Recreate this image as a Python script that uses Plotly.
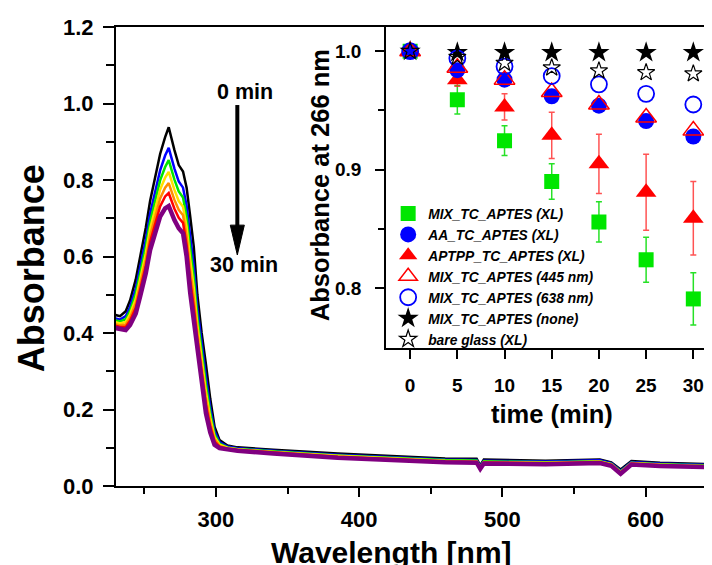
import plotly.graph_objects as go

FONT = "Liberation Sans, Arial, Helvetica, sans-serif"

# ---------------- main panel: UV-vis spectra (MIX_TC_APTES, XL) ----------------
wavelength = [230, 233, 237, 240, 244, 247, 251, 254, 258, 261, 264.5, 267, 271, 274, 277,
              279.5, 282, 284.5, 287, 290, 293, 296, 299, 302.5, 308, 315, 340, 385, 460,
              482, 484.5, 487, 530, 568, 576, 582.5, 590, 610, 646]

abs_0min = [0.447, 0.444, 0.457, 0.485, 0.540, 0.598, 0.675, 0.745, 0.820, 0.868, 0.912, 0.938,
            0.878, 0.839, 0.822, 0.780, 0.705, 0.625, 0.500, 0.400, 0.318, 0.228, 0.155, 0.120,
            0.106, 0.101, 0.095, 0.085, 0.072, 0.071, 0.054, 0.069, 0.066, 0.069, 0.062, 0.043,
            0.065, 0.061, 0.057]
abs_5min = [0.438, 0.435, 0.444, 0.468, 0.517, 0.571, 0.644, 0.712, 0.781, 0.825, 0.864, 0.884,
            0.830, 0.796, 0.780, 0.733, 0.653, 0.576, 0.464, 0.368, 0.285, 0.205, 0.143, 0.115,
            0.103, 0.099, 0.092, 0.082, 0.069, 0.068, 0.052, 0.066, 0.064, 0.067, 0.060, 0.040,
            0.063, 0.059, 0.055]
abs_10min = [0.433, 0.430, 0.436, 0.458, 0.503, 0.555, 0.625, 0.691, 0.757, 0.799, 0.834, 0.852,
             0.801, 0.770, 0.754, 0.704, 0.621, 0.546, 0.441, 0.348, 0.264, 0.191, 0.135, 0.111,
             0.101, 0.097, 0.091, 0.080, 0.068, 0.067, 0.050, 0.065, 0.062, 0.065, 0.058, 0.038,
             0.061, 0.057, 0.054]
abs_15min = [0.428, 0.425, 0.429, 0.449, 0.489, 0.539, 0.607, 0.672, 0.734, 0.775, 0.806, 0.821,
             0.774, 0.745, 0.730, 0.677, 0.591, 0.518, 0.420, 0.329, 0.245, 0.178, 0.128, 0.108,
             0.100, 0.096, 0.089, 0.079, 0.066, 0.065, 0.049, 0.063, 0.061, 0.064, 0.057, 0.037,
             0.060, 0.056, 0.052]
abs_20min = [0.423, 0.420, 0.422, 0.440, 0.477, 0.525, 0.591, 0.654, 0.713, 0.752, 0.780, 0.792,
             0.748, 0.722, 0.708, 0.652, 0.563, 0.492, 0.401, 0.312, 0.227, 0.166, 0.122, 0.105,
             0.098, 0.095, 0.088, 0.077, 0.065, 0.064, 0.048, 0.062, 0.060, 0.063, 0.056, 0.035,
             0.059, 0.055, 0.051]
abs_25min = [0.419, 0.416, 0.416, 0.432, 0.466, 0.512, 0.576, 0.638, 0.694, 0.731, 0.757, 0.766,
             0.725, 0.701, 0.688, 0.630, 0.538, 0.468, 0.383, 0.296, 0.211, 0.155, 0.116, 0.103,
             0.097, 0.094, 0.087, 0.076, 0.064, 0.063, 0.047, 0.061, 0.059, 0.062, 0.055, 0.034,
             0.058, 0.054, 0.050]
abs_30min = [0.413, 0.410, 0.408, 0.421, 0.451, 0.495, 0.556, 0.617, 0.669, 0.704, 0.726, 0.732,
             0.695, 0.674, 0.661, 0.600, 0.505, 0.437, 0.360, 0.276, 0.190, 0.140, 0.108, 0.099,
             0.095, 0.092, 0.085, 0.074, 0.062, 0.061, 0.045, 0.059, 0.057, 0.060, 0.053, 0.032,
             0.056, 0.052, 0.049]

spectra = [abs_0min, abs_5min, abs_10min, abs_15min, abs_20min, abs_25min, abs_30min]
spectra_colors = ["#000000", "#0000ff", "#00e600", "#ffe000", "#ff8c00", "#ff0000", "#800080"]
spectra_widths = [2.5, 2.5, 2.5, 2.5, 2.5, 2.5, 4.5]

# ---------------- inset: absorbance at 266 nm vs time ----------------
time_min = [0, 5, 10, 15, 20, 25, 30]
mix_xl = [1.000, 0.959, 0.9245, 0.890, 0.856, 0.824, 0.791]
mix_xl_err = [0.0, 0.012, 0.0125, 0.015, 0.017, 0.019, 0.022]
aa_xl = [1.000, 0.984, 0.976, 0.962, 0.954, 0.941, 0.928]
aa_xl_err = [0.0, 0.002, 0.002, 0.003, 0.003, 0.004, 0.005]
aptpp_xl = [1.000, 0.976, 0.953, 0.929, 0.905, 0.881, 0.859]
aptpp_xl_err = [0.0, 0.0056, 0.011, 0.0195, 0.025, 0.032, 0.031]
mix_445 = [1.000, 0.986, 0.976, 0.9655, 0.955, 0.944, 0.933]
mix_638 = [1.000, 0.994, 0.987, 0.979, 0.972, 0.964, 0.955]
mix_none = [1.000, 0.999, 0.999, 0.999, 0.999, 0.999, 0.999]
bare_glass = [1.000, 0.995, 0.990, 0.986, 0.9835, 0.982, 0.981]

fig = go.Figure()

for vals, col, w in zip(spectra, spectra_colors, spectra_widths):
    fig.add_trace(go.Scatter(x=wavelength, y=vals, mode="lines",
                             line=dict(color=col, width=w),
                             showlegend=False, hoverinfo="skip",
                             xaxis="x", yaxis="y"))

def inset_trace(y, name, symbol, size, color, rank, err=None, err_color=None, line_w=0):
    kw = {}
    if err is not None:
        kw["error_y"] = dict(type="data", array=err, visible=True,
                             color=err_color, thickness=1.5, width=3)
    return go.Scatter(x=time_min, y=y, mode="markers", name=name,
                      marker=dict(symbol=symbol, size=size, color=color,
                                  line=dict(color=color, width=line_w)),
                      legendrank=rank, xaxis="x2", yaxis="y2", **kw)

fig.add_trace(inset_trace(mix_none, "MIX_TC_APTES (none)", "star", 16, "#000000", 6))
fig.add_trace(inset_trace(mix_xl, "MIX_TC_APTES (XL)", "square", 15, "#00e600", 1,
                          mix_xl_err, "rgba(0,220,0,0.85)"))
fig.add_trace(inset_trace(aptpp_xl, "APTPP_TC_APTES (XL)", "triangle-up", 18, "#ff0000", 3,
                          aptpp_xl_err, "rgba(255,40,40,0.8)"))
fig.add_trace(inset_trace(aa_xl, "AA_TC_APTES (XL)", "circle", 16, "#0000ff", 2,
                          aa_xl_err, "#0000ff"))
fig.add_trace(inset_trace(mix_445, "MIX_TC_APTES (445 nm)", "triangle-up-open", 18, "#ff0000", 4,
                          line_w=1.5))
fig.add_trace(inset_trace(mix_638, "MIX_TC_APTES (638 nm)", "circle-open", 16, "#0000ff", 5,
                          line_w=1.8))
fig.add_trace(inset_trace(bare_glass, "bare glass (XL)", "star-open", 13, "#000000", 7,
                          line_w=1.2))

# The page body has an 8px margin, so the figure is 704x557 and sits at (8, 8).
# Helper functions take screen pixel positions and convert them to paper fractions.
PL, PR, PT, PB = 115.7, 712.0, 27.0, 486.0
def px_x(px):
    return (px - PL) / (PR - PL)
def px_y(py):
    return (PB - py) / (PB - PT)

axis_common = dict(showline=True, linewidth=2, linecolor="black", ticks="outside",
                   tickwidth=2, tickcolor="black", showgrid=False, zeroline=False,
                   automargin=False)

fig.update_layout(
    width=704, height=557,
    margin=dict(l=PL - 8, r=0, t=PT - 8, b=565 - PB, autoexpand=False),
    paper_bgcolor="white", plot_bgcolor="white",
    font=dict(family=FONT, color="black"),
    xaxis=dict(domain=[0, 1], range=[230.2, 646.3], mirror=True, dtick=100, tick0=0,
               ticklen=9, ticklabelstandoff=4,
               minor=dict(dtick=50, tick0=0, ticks="outside", ticklen=6, tickwidth=2,
                          tickcolor="black"),
               tickfont=dict(size=22, weight="bold", family=FONT), **axis_common),
    yaxis=dict(domain=[0, 1], range=[0, 1.2], dtick=0.2, tick0=0, tickformat=".1f",
               ticklen=11, ticklabelstandoff=5,
               minor=dict(dtick=0.1, tick0=0, ticks="outside", ticklen=8, tickwidth=2,
                          tickcolor="black"),
               tickfont=dict(size=22, weight="bold", family=FONT), **axis_common),
    xaxis2=dict(domain=[px_x(386), 1], anchor="y2", range=[-2.54, 31.98],
                tickvals=time_min, ticklen=9, ticklabelstandoff=10,
                tickfont=dict(size=19, weight="bold", family=FONT), **axis_common),
    yaxis2=dict(domain=[px_y(348), 1], anchor="x2", range=[0.7496, 1.0204],
                tickvals=[0.8, 0.9, 1.0], tickformat=".1f", ticklen=9, ticklabelstandoff=10,
                minor=dict(tickvals=[0.85, 0.95], ticks="outside", ticklen=6, tickwidth=2,
                           tickcolor="black"),
                tickfont=dict(size=19, weight="bold", family=FONT), **axis_common),
    legend=dict(x=px_x(388), y=px_y(198), xanchor="left", yanchor="top",
                bgcolor="rgba(0,0,0,0)", borderwidth=0, traceorder="normal",
                itemsizing="trace",
                font=dict(family=FONT, size=13.8, weight="bold", style="italic",
                          color="black")),
)

# arrow 0 min -> 30 min
arrow_x = 314.9
fig.add_shape(type="line", xref="x", yref="y", x0=arrow_x, x1=arrow_x, y0=0.996, y1=0.675,
              line=dict(color="black", width=4))
fig.add_shape(type="path", xref="x", yref="y",
              path=f"M {arrow_x-4.9},0.682 L {arrow_x+4.9},0.682 L {arrow_x},0.604 Z",
              fillcolor="black", line=dict(color="black", width=1))

annotations = [
    dict(text="0 min", x=320.4, y=1.029, xref="x", yref="y", showarrow=False,
         font=dict(size=21.5, weight="bold", family=FONT)),
    dict(text="30 min", x=319.7, y=0.578, xref="x", yref="y", showarrow=False,
         font=dict(size=21.5, weight="bold", family=FONT)),
    dict(text="Absorbance", x=px_x(31), y=px_y(268), xref="paper", yref="paper",
         showarrow=False, textangle=-90, xanchor="center", yanchor="middle",
         font=dict(size=36, weight="bold", family=FONT)),
    dict(text="Wavelength [nm]", x=px_x(391), y=px_y(552), xref="paper", yref="paper",
         showarrow=False, xanchor="center", yanchor="middle",
         font=dict(size=30, weight="bold", family=FONT)),
    dict(text="time (min)", x=px_x(551.5), y=px_y(414), xref="paper", yref="paper",
         showarrow=False, xanchor="center", yanchor="middle",
         font=dict(size=25.5, weight="bold", family=FONT)),
    dict(text="Absorbance at 266 nm", x=px_x(320), y=px_y(185), xref="paper", yref="paper",
         showarrow=False, textangle=-90, xanchor="center", yanchor="middle",
         font=dict(size=25.5, weight="bold", family=FONT)),
]
fig.update_layout(annotations=annotations)

fig.write_html("out.html")
